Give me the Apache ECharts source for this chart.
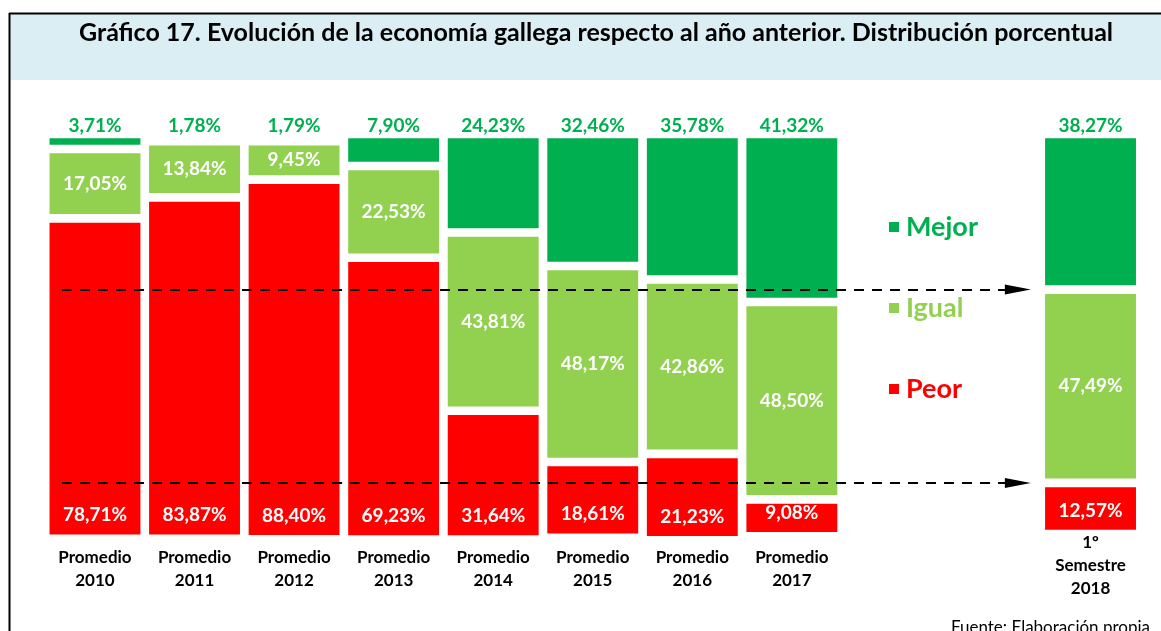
<!DOCTYPE html>
<html>
<head>
<meta charset="utf-8">
<script src="https://cdn.jsdelivr.net/npm/echarts@6/dist/echarts.min.js"></script>
<style>html,body{margin:0;padding:0;background:#fff}#c{width:1161px;height:631px}</style>
</head>
<body>
<div id="c"></div>
<script>
var categories = ['Promedio\n2010','Promedio\n2011','Promedio\n2012','Promedio\n2013','Promedio\n2014','Promedio\n2015','Promedio\n2016','Promedio\n2017','','','1º\nSemestre\n2018'];
var mejor = [3.71, 1.78, 1.79, 7.90, 24.23, 32.46, 35.78, 41.32, null, null, 38.27];
var igual = [17.05, 13.84, 9.45, 22.53, 43.81, 48.17, 42.86, 48.50, null, null, 47.49];
var peor  = [78.71, 83.87, 88.40, 69.23, 31.64, 18.61, 21.23, 9.08, null, null, 12.57];
var seriesNames = ['Mejor','Igual','Peor'];
var colors = {Mejor:'#00B050', Igual:'#92D050', Peor:'#FF0000'};

var FONT = 'Lato';
function fmt(p){ return p.value == null ? '' : p.value.toFixed(2).replace('.', ',') + '%'; }

var last = mejor.length - 1;
var arrowLevels = [mejor[last], mejor[last] + igual[last]];

var xData = categories.map(function(c, i){
  if (i === last || c === '') return c;
  return {value: c, textStyle: {padding: [15, 0, 0, 0]}};
});

var chart = echarts.init(document.getElementById('c'));
var barBase = {
  type: 'bar', stack: 'total', barWidth: 99.5,
  itemStyle: {borderColor: '#fff', borderWidth: 4.3}
};
var valLabel = {fontFamily: FONT, fontWeight: 'bold', fontSize: 19};
chart.setOption({
  animation: false,
  title: [{
    text: 'Gráfico 17. Evolución de la economía gallega respecto al año anterior. Distribución porcentual',
    left: 74, top: 15, z: 10,
    textStyle: {fontFamily: FONT, fontWeight: 'bold', fontSize: 25, color: '#000'}
  }, {
    text: 'Fuente: Elaboración propia', right: 6, top: 614,
    textStyle: {fontFamily: FONT, fontWeight: 'normal', fontSize: 17, color: '#000'}
  }],
  graphic: {elements: [
    {type: 'rect', z: -10, shape: {x: 10, y: 14, width: 1151, height: 66}, style: {fill: '#DAEEF3'}},
    {type: 'line', z: -9, shape: {x1: 9, y1: 13.5, x2: 1161, y2: 13.5}, style: {stroke: '#000', lineWidth: 2}},
    {type: 'line', z: -9, shape: {x1: 9.5, y1: 13, x2: 9.5, y2: 631}, style: {stroke: '#000', lineWidth: 2}}
  ]},
  legend: {
    data: seriesNames.map(function(n){ return {name: n, textStyle: {color: colors[n]}}; }),
    orient: 'vertical', left: 887, top: 212, padding: 0, icon: 'rect',
    itemWidth: 12, itemHeight: 12, itemGap: 51,
    textStyle: {fontFamily: FONT, fontWeight: 'bold', fontSize: 27, lineHeight: 30, padding: [0,0,0,1]}
  },
  grid: {left: 45.2, right: 20.7, top: 133.85, bottom: 90.15, containLabel: false},
  xAxis: [{
    type: 'category', data: xData,
    axisLine: {show: false}, axisTick: {show: false},
    axisLabel: {interval: 0, margin: -9.85, fontFamily: FONT, fontWeight: 'bold', fontSize: 17, lineHeight: 23, color: '#000', verticalAlign: 'top'}
  }, {
    type: 'value', min: 0, max: categories.length, show: false
  }],
  yAxis: {type: 'value', inverse: true, min: 0, max: 100, show: false},
  series: [
    Object.assign({}, barBase, {name: 'Mejor', data: mejor, itemStyle: Object.assign({}, barBase.itemStyle, {color: colors.Mejor}),
      label: Object.assign({show: true, position: 'top', distance: -2, formatter: fmt, color: '#00B050'}, valLabel)}),
    Object.assign({}, barBase, {name: 'Igual', data: igual, itemStyle: Object.assign({}, barBase.itemStyle, {color: colors.Igual}),
      label: Object.assign({show: true, position: 'inside', formatter: fmt, color: '#fff'}, valLabel)}),
    Object.assign({}, barBase, {name: 'Peor', data: peor, itemStyle: Object.assign({}, barBase.itemStyle, {color: colors.Peor}),
      label: Object.assign({show: true, position: 'insideBottom', distance: 14, formatter: fmt, color: '#fff'}, valLabel)}),
    {
      type: 'line', xAxisIndex: 1, data: [], silent: true,
      markLine: {
        silent: true, symbol: ['none', 'triangle'], symbolSize: [10, 26],
        label: {show: false},
        lineStyle: {color: '#000', width: 2, type: [10, 8]},
        data: arrowLevels.map(function(v){ return [{coord: [0.169, v]}, {coord: [9.77, v]}]; })
      }
    }
  ]
});
</script>
</body>
</html>
